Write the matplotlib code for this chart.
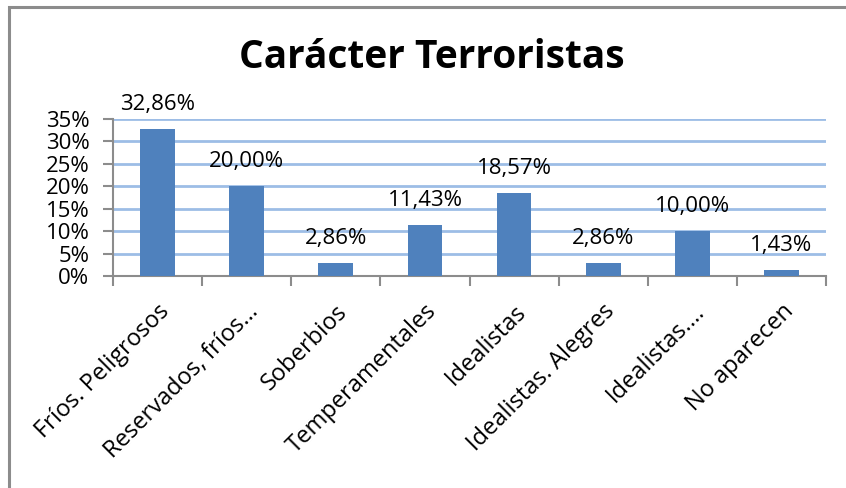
import matplotlib.pyplot as plt
from matplotlib.patches import Rectangle
from matplotlib.ticker import FixedLocator, FuncFormatter

categories = ['Fríos. Peligrosos', 'Reservados, fríos…', 'Soberbios',
              'Temperamentales', 'Idealistas', 'Idealistas. Alegres',
              'Idealistas.…', 'No aparecen']
values = [32.86, 20.00, 2.86, 11.43, 18.57, 2.86, 10.00, 1.43]
value_labels = ['32,86%', '20,00%', '2,86%', '11,43%', '18,57%', '2,86%',
                '10,00%', '1,43%']
y_ticks = [0, 5, 10, 15, 20, 25, 30, 35]

plt.rcParams['font.family'] = ['Open Sans', 'DejaVu Sans']

fig = plt.figure(figsize=(8.46, 4.88), dpi=100)
ax = fig.add_axes([113/846, 1 - 276/488, (826 - 113)/846, (276 - 119)/488])

# chart frame (only top and left edges fall inside the picture)
fig.patches.append(Rectangle((9/846, -0.5), 2.0, 1.5 - 7/488,
                             transform=fig.transFigure, fill=False,
                             edgecolor='#8c8c8c', linewidth=2.2))

x = range(len(categories))
ax.bar(x, values, width=0.39, color='#4f81bd', zorder=3)
for xi, v, lab in zip(x, values, value_labels):
    ax.annotate(lab, (xi, v), xytext=(0, 10), textcoords='offset points',
                ha='center', va='bottom', fontsize=16)

ax.set_xlim(-0.5, len(categories) - 0.5)
ax.set_ylim(0, 35)
ax.yaxis.set_major_locator(FixedLocator(y_ticks))
ax.yaxis.set_major_formatter(FuncFormatter(lambda v, p: '%d%%' % v))
ax.grid(axis='y', color='#9dbde6', linewidth=2, zorder=0)

ax.set_xticks([i - 0.5 for i in range(len(categories) + 1)], minor=False)
ax.set_xticklabels([])
ax.set_xticks(list(x), minor=True)
ax.set_xticklabels(categories, minor=True, rotation=45, ha='right',
                   rotation_mode='anchor', fontsize=17)
ax.tick_params(axis='x', which='minor', length=0, pad=17)
ax.tick_params(axis='x', which='major', length=7, color='#8c8c8c', width=1.5)
ax.tick_params(axis='y', length=7, color='#8c8c8c', width=1.5, labelsize=16,
               pad=10)

for s in ['top', 'right']:
    ax.spines[s].set_visible(False)
for s in ['left', 'bottom']:
    ax.spines[s].set_color('#8c8c8c')
    ax.spines[s].set_linewidth(1.5)

fig.text(432/846, 1 - 57/488, 'Carácter Terroristas', ha='center',
         va='center', fontsize=28, fontweight='bold')

fig.savefig('out.png', dpi=100)
